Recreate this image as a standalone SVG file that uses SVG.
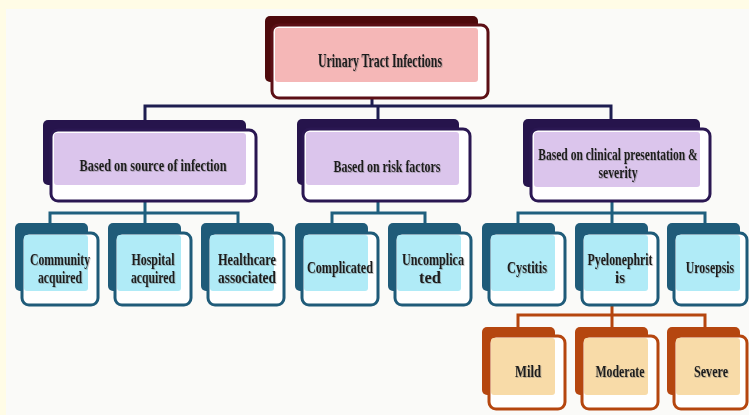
<svg xmlns="http://www.w3.org/2000/svg" width="749" height="415" viewBox="0 0 749 415">
<defs>
<filter id="sh" x="-10%" y="-30%" width="120%" height="160%">
<feDropShadow dx="0.8" dy="0.8" stdDeviation="0.6" flood-color="#666" flood-opacity="0.5"/>
</filter>
</defs>
<style>
text{font-family:"Liberation Serif","Times New Roman",serif;font-weight:bold;fill:#1b1b1b;text-anchor:middle;filter:url(#sh)}
.t1{font-size:19px}
.t2{font-size:17px}
.t3{font-size:16px}
.r .bk{fill:#4e0a0c}.r .fr{fill:#fff;stroke:#5c1016;stroke-width:3}.r .fl{fill:#f5b7b7}
.p .bk{fill:#26144c}.p .fr{fill:#fff;stroke:#2a1752;stroke-width:3}.p .fl{fill:#dbc5ec}
.b .bk{fill:#1f5b79}.b .fr{fill:#fff;stroke:#1f5b79;stroke-width:3}.b .fl{fill:#b0ebf7}
.o .bk{fill:#b5460f}.o .fr{fill:#fff;stroke:#b5460f;stroke-width:3}.o .fl{fill:#f8dba8}
.c{fill:none;stroke-width:3;stroke-linecap:square}
.cn{stroke:#1d1d50}.ct{stroke:#1f5f7e}.co{stroke:#b5460f}
</style>
<rect x="0" y="0" width="749" height="415" fill="#fffce6"/>
<rect x="6" y="9" width="743" height="406" fill="#fafaf8"/>

<g id="connectors">
<path class="c cn" d="M372 99V106M145 106H611M145 106V119M378 106V119M611 106V119"/>
<path class="c ct" d="M145 201V223M50 213H238M50 213V223M238 213V223"/>
<path class="c ct" d="M378 201V213M332 213H425M332 213V223M425 213V223"/>
<path class="c ct" d="M612 201V223M518 213H705M518 213V223M705 213V223"/>
<path class="c co" d="M612 305V327M518 315H705M518 315V327M705 315V327"/>
</g>

<g id="root" class="r">
<rect class="bk" x="265" y="16" width="213" height="66" rx="5"/>
<rect class="fr" x="272" y="25" width="216" height="73" rx="7"/>
<rect class="fl" x="275" y="28" width="203" height="54" rx="3"/>
<text class="t1" x="380" y="67" textLength="124" lengthAdjust="spacingAndGlyphs">Urinary Tract Infections</text>
</g>

<g id="source" class="p">
<rect class="bk" x="43" y="120" width="203" height="65" rx="5"/>
<rect class="fr" x="51" y="130" width="205" height="71" rx="7"/>
<rect class="fl" x="54" y="133" width="192" height="52" rx="3"/>
<text class="t2" x="153" y="171" textLength="147" lengthAdjust="spacingAndGlyphs">Based on source of infection</text>
</g>
<g id="risk" class="p">
<rect class="bk" x="297" y="119" width="162" height="66" rx="5"/>
<rect class="fr" x="303" y="129" width="167" height="72" rx="7"/>
<rect class="fl" x="306" y="132" width="153" height="53" rx="3"/>
<text class="t2" x="387" y="172" textLength="107" lengthAdjust="spacingAndGlyphs">Based on risk factors</text>
</g>
<g id="clinical" class="p">
<rect class="bk" x="523" y="119" width="177" height="68" rx="5"/>
<rect class="fr" x="531" y="129" width="179" height="72" rx="7"/>
<rect class="fl" x="534" y="132" width="166" height="55" rx="3"/>
<text class="t2" transform="translate(618 160) scale(0.68 1)">Based on clinical presentation &amp;</text>
<text class="t2" x="618" y="178" textLength="39" lengthAdjust="spacingAndGlyphs">severity</text>
</g>

<g id="community" class="b">
<rect class="bk" x="15" y="223" width="73" height="68" rx="5"/>
<rect class="fr" x="22" y="233" width="76" height="72" rx="7"/>
<rect class="fl" x="24" y="235" width="64" height="56" rx="3"/>
<text class="t3" x="60" y="265" textLength="60" lengthAdjust="spacingAndGlyphs">Community</text>
<text class="t3" x="60" y="283" textLength="44" lengthAdjust="spacingAndGlyphs">acquired</text>
</g>
<g id="hospital" class="b">
<rect class="bk" x="108" y="223" width="73" height="68" rx="5"/>
<rect class="fr" x="115" y="233" width="76" height="72" rx="7"/>
<rect class="fl" x="117" y="235" width="64" height="56" rx="3"/>
<text class="t3" x="153" y="265" textLength="43" lengthAdjust="spacingAndGlyphs">Hospital</text>
<text class="t3" x="153" y="283" textLength="44" lengthAdjust="spacingAndGlyphs">acquired</text>
</g>
<g id="healthcare" class="b">
<rect class="bk" x="201" y="223" width="73" height="68" rx="5"/>
<rect class="fr" x="208" y="233" width="76" height="72" rx="7"/>
<rect class="fl" x="210" y="235" width="64" height="56" rx="3"/>
<text class="t3" x="247" y="265" textLength="58" lengthAdjust="spacingAndGlyphs">Healthcare</text>
<text class="t3" x="247" y="283" textLength="58" lengthAdjust="spacingAndGlyphs">associated</text>
</g>
<g id="complicated" class="b">
<rect class="bk" x="295" y="223" width="73" height="68" rx="5"/>
<rect class="fr" x="302" y="233" width="76" height="72" rx="7"/>
<rect class="fl" x="304" y="235" width="64" height="56" rx="3"/>
<text class="t3" x="340" y="273" textLength="66" lengthAdjust="spacingAndGlyphs">Complicated</text>
</g>
<g id="uncomplicated" class="b">
<rect class="bk" x="388" y="223" width="73" height="68" rx="5"/>
<rect class="fr" x="395" y="233" width="76" height="72" rx="7"/>
<rect class="fl" x="397" y="235" width="64" height="56" rx="3"/>
<text class="t3" x="433" y="265" textLength="62" lengthAdjust="spacingAndGlyphs">Uncomplica</text>
<text class="t3" x="430" y="283" textLength="22" lengthAdjust="spacingAndGlyphs">ted</text>
</g>
<g id="cystitis" class="b">
<rect class="bk" x="482" y="223" width="73" height="68" rx="5"/>
<rect class="fr" x="489" y="233" width="76" height="72" rx="7"/>
<rect class="fl" x="491" y="235" width="64" height="56" rx="3"/>
<text class="t3" x="527" y="273" textLength="40" lengthAdjust="spacingAndGlyphs">Cystitis</text>
</g>
<g id="pyelonephritis" class="b">
<rect class="bk" x="575" y="223" width="73" height="68" rx="5"/>
<rect class="fr" x="582" y="233" width="76" height="72" rx="7"/>
<rect class="fl" x="584" y="235" width="64" height="56" rx="3"/>
<text class="t3" x="620" y="265" textLength="65" lengthAdjust="spacingAndGlyphs">Pyelonephrit</text>
<text class="t3" x="620" y="283" textLength="10" lengthAdjust="spacingAndGlyphs">is</text>
</g>
<g id="urosepsis" class="b">
<rect class="bk" x="667" y="223" width="73" height="68" rx="5"/>
<rect class="fr" x="674" y="233" width="73" height="72" rx="7"/>
<rect class="fl" x="676" y="235" width="64" height="56" rx="3"/>
<text class="t3" transform="translate(710 273) scale(0.74 1)">Urosepsis</text>
</g>

<g id="mild" class="o">
<rect class="bk" x="482" y="327" width="73" height="68" rx="5"/>
<rect class="fr" x="489" y="336" width="76" height="73" rx="7"/>
<rect class="fl" x="491" y="338" width="64" height="57" rx="3"/>
<text class="t3" x="528" y="377" textLength="26" lengthAdjust="spacingAndGlyphs">Mild</text>
</g>
<g id="moderate" class="o">
<rect class="bk" x="575" y="327" width="73" height="68" rx="5"/>
<rect class="fr" x="582" y="336" width="76" height="73" rx="7"/>
<rect class="fl" x="584" y="338" width="64" height="57" rx="3"/>
<text class="t3" x="620" y="377" textLength="49" lengthAdjust="spacingAndGlyphs">Moderate</text>
</g>
<g id="severe" class="o">
<rect class="bk" x="667" y="327" width="73" height="68" rx="5"/>
<rect class="fr" x="674" y="336" width="73" height="73" rx="7"/>
<rect class="fl" x="676" y="338" width="64" height="57" rx="3"/>
<text class="t3" x="711" y="377" textLength="34" lengthAdjust="spacingAndGlyphs">Severe</text>
</g>
</svg>
